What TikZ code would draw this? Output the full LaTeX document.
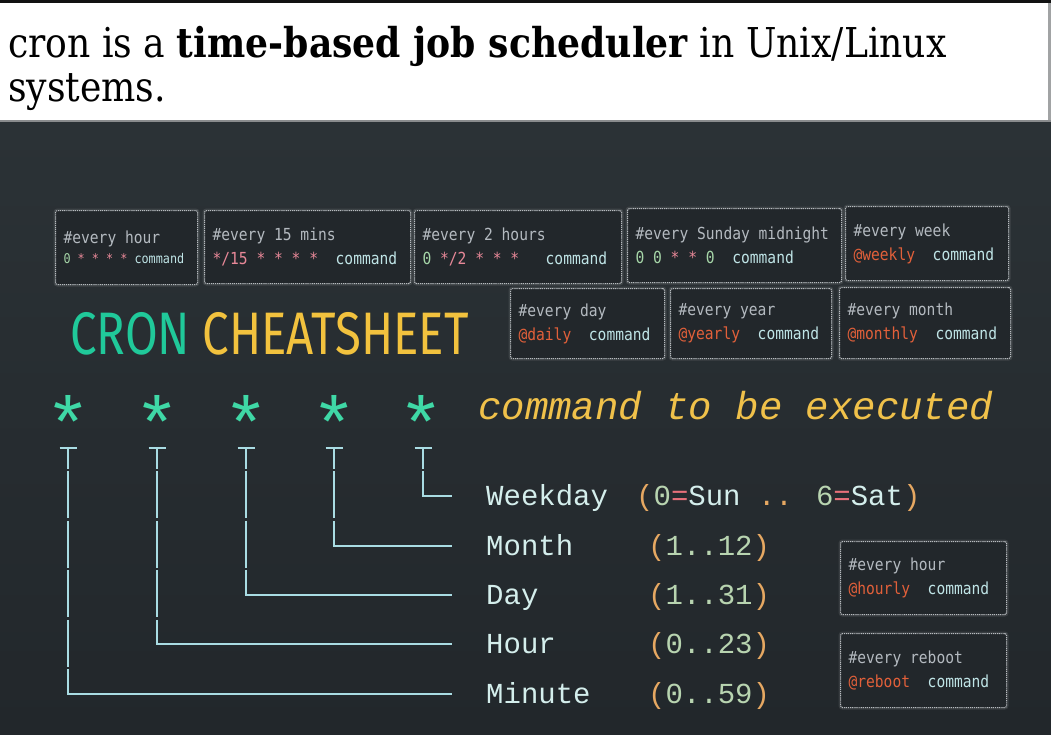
\documentclass[tikz,border=0pt]{standalone}
\usepackage{fontspec}
\setmainfont{DejaVu Serif}
\newfontfamily\titlefont[FakeStretch=0.88]{DejaVu Serif}
\newfontfamily\boxfont[FakeStretch=0.88]{DejaVu Sans Mono}
\newfontfamily\labfont{Liberation Mono}
\newfontfamily\cheatfont[FakeStretch=0.79]{Fira Sans}
\usetikzlibrary{calc}
\definecolor{topstrip}{HTML}{111111}
\definecolor{sepline}{HTML}{8A8C8E}
\definecolor{bgtop}{HTML}{2B3236}
\definecolor{bgbot}{HTML}{22272B}
\definecolor{boxfill}{HTML}{22272B}
\definecolor{boxline}{HTML}{B8BCC0}
\definecolor{cmtc}{HTML}{B4BAC0}
\definecolor{cmdc}{HTML}{BFE4E6}
\definecolor{starc}{HTML}{E88898}
\definecolor{numc}{HTML}{A6D6A8}
\definecolor{atc}{HTML}{E2603A}
\definecolor{bigstarc}{HTML}{3FD8A6}
\definecolor{cronc}{HTML}{20C99A}
\definecolor{cheatc}{HTML}{F2C23E}
\definecolor{execc}{HTML}{F0C14A}
\definecolor{treec}{HTML}{A9DCE3}
\definecolor{labc}{HTML}{D4EEEC}
\definecolor{parenc}{HTML}{E6A862}
\definecolor{rnumc}{HTML}{B8D4B0}
\definecolor{eqc}{HTML}{E8707A}
\newcommand\ksp{\hphantom{0}}
\newcommand\kst[1]{\textcolor{starc}{#1}}
\newcommand\knum[1]{\textcolor{numc}{#1}}
\newcommand\kcmd{\textcolor{cmdc}{command}}
\newcommand\kat[1]{\textcolor{atc}{#1}}
\newcommand\kcm[1]{\textcolor{cmtc}{#1}}
\newcommand\kp[1]{\textcolor{parenc}{#1}}
\newcommand\kr[1]{\textcolor{rnumc}{#1}}
\newcommand\keq{\textcolor{eqc}{=}}
\tikzset{
  cbox/.style={draw=boxline, dash pattern=on 1.2pt off 0.9pt, line width=1.1pt,
    fill=boxfill, rounded corners=2pt, inner xsep=8pt, inner ysep=0pt,
    anchor=north west, align=left,
    font=\boxfont\fontsize{16.6}{24}\selectfont,
    preaction={draw=white, draw opacity=0.10, line width=4pt, solid}},
  lab/.style={inner sep=0pt, anchor=west, yshift=-6.5pt, text height=0.62em, text depth=0pt,
    font=\labfont\fontsize{29}{29}\selectfont, text=labc},
  bigstar/.style={inner sep=0pt, anchor=base, text=bigstarc,
    font=\labfont\fontsize{76}{76}\selectfont},
  treeline/.style={draw=treec, line width=2.5pt},
  vline/.style={treeline, dash pattern=on 47pt off 2.5pt, dash phase=26.25pt},
  hline/.style={treeline, line cap=rect}
}
\begin{document}
\begin{tikzpicture}[x=1pt,y=-1pt]
\useasboundingbox (0,0) rectangle (1051,734);
% background
\fill[topstrip] (0,0) rectangle (1051,3);
\fill[white] (0,3) rectangle (1051,120);
\fill[sepline!80] (1048,3) rectangle (1051,120);
\fill[sepline] (0,119.5) rectangle (1051,122);
\shade[top color=bgtop, bottom color=bgbot] (0,122) rectangle (1051,734);
% title
\node[anchor=base west, inner sep=0pt, font=\titlefont\fontsize{41.1}{40}\selectfont] (hd1) at (8,57)
  {cron is a \textbf{time-based job scheduler} in Unix/Linux};
\node[anchor=base west, inner sep=0pt, font=\titlefont\fontsize{41.1}{40}\selectfont] (hd2) at (8,101)
  {systems.};
% boxes row 1
\node[cbox, text width=126pt, minimum height=74pt] (b1) at (55,210)
  {\kcm{\#every\ksp hour}\\[-4pt]{\fontsize{13.4}{20}\selectfont\knum{0}\ksp\kst{*\ksp*\ksp*\ksp*}\ksp\kcmd}};
\node[cbox, text width=190pt, minimum height=73pt] (b2) at (204,210)
  {\kcm{\#every\ksp 15\ksp mins}\\\kst{*/15\ksp*\ksp*\ksp*\ksp*}\ksp\ksp\kcmd};
\node[cbox, text width=191pt, minimum height=73pt] (b3) at (414,210)
  {\kcm{\#every\ksp 2\ksp hours}\\\knum{0}\ksp\kst{*/2\ksp*\ksp*\ksp*}\ksp\ksp\ksp\kcmd};
\node[cbox, text width=198pt, minimum height=74pt] (b4) at (627,208)
  {\kcm{\#every\ksp Sunday\ksp midnight}\\\knum{0\ksp 0}\ksp\kst{*\ksp*}\ksp\knum{0}\ksp\ksp\kcmd};
\node[cbox, text width=147pt, minimum height=74pt] (b5) at (845,206)
  {\kcm{\#every\ksp week}\\\kat{@weekly}\ksp\ksp\kcmd};
% boxes row 2
\node[cbox, text width=138pt, minimum height=70pt] (b6) at (510,288)
  {\kcm{\#every\ksp day}\\\kat{@daily}\ksp\ksp\kcmd};
\node[cbox, text width=145pt, minimum height=70pt] (b7) at (670,288)
  {\kcm{\#every\ksp year}\\\kat{@yearly}\ksp\ksp\kcmd};
\node[cbox, text width=155pt, minimum height=71pt] (b8) at (839,287)
  {\kcm{\#every\ksp month}\\\kat{@monthly}\ksp\ksp\kcmd};
% boxes lower right
\node[cbox, text width=150pt, minimum height=73pt] (b9) at (840,541)
  {\kcm{\#every\ksp hour}\\\kat{@hourly}\ksp\ksp\kcmd};
\node[cbox, text width=150pt, minimum height=74pt] (b10) at (840,633)
  {\kcm{\#every\ksp reboot}\\\kat{@reboot}\ksp\ksp\kcmd};
% cheatsheet title
\node[anchor=base west, inner sep=0pt, font=\cheatfont\fontsize{60}{60}\selectfont] (cheat) at (70,354)
  {\textcolor{cronc}{CRON} \textcolor{cheatc}{CHEATSHEET}};
% asterisks
\node[bigstar] (s1) at (68,450) {*};
\node[bigstar] (s2) at (157,450) {*};
\node[bigstar] (s3) at (246,450) {*};
\node[bigstar] (s4) at (334,450) {*};
\node[bigstar] (s5) at (421,450) {*};
\node[anchor=base west, inner sep=0pt, text=execc, font=\labfont\itshape\fontsize{39}{39}\selectfont] (exec) at (478,419)
  {command to be executed};
% tree coordinates
\foreach \i/\x in {1/68,2/157,3/246,4/334,5/423}{\coordinate (t\i) at (\x,448);}
\coordinate (r5) at (451,496);
\coordinate (r4) at (451,546);
\coordinate (r3) at (451,595);
\coordinate (r2) at (451,644);
\coordinate (r1) at (451,694);
% labels
\node[lab] (wd) at ([xshift=35pt]r5) {Weekday};
\node[lab] (mo) at ([xshift=35pt]r4) {Month};
\node[lab] (dy) at ([xshift=35pt]r3) {Day};
\node[lab] (hr) at ([xshift=35pt]r2) {Hour};
\node[lab] (mi) at ([xshift=35pt]r1) {Minute};
\node[lab] (wdr) at ([xshift=185pt]r5) {\kp{(}\kr{0}\keq Sun \kp{..} \kr{6}\keq Sat\kp{)}};
\node[lab] (mor) at ([xshift=197pt]r4) {\kp{(}\kr{1..12}\kp{)}};
\node[lab] (dyr) at ([xshift=197pt]r3) {\kp{(}\kr{1..31}\kp{)}};
\node[lab] (hrr) at ([xshift=197pt]r2) {\kp{(}\kr{0..23}\kp{)}};
\node[lab] (mir) at ([xshift=197pt]r1) {\kp{(}\kr{0..59}\kp{)}};
% tree
\foreach \i in {1,...,5}{
  \draw[treeline] ([xshift=-8.5pt]t\i) -- ([xshift=8.5pt]t\i);
  \draw[vline] (t\i) -- (t\i |- r\i);
  \draw[hline] (t\i |- r\i) -- (r\i);
}
\end{tikzpicture}
\end{document}
